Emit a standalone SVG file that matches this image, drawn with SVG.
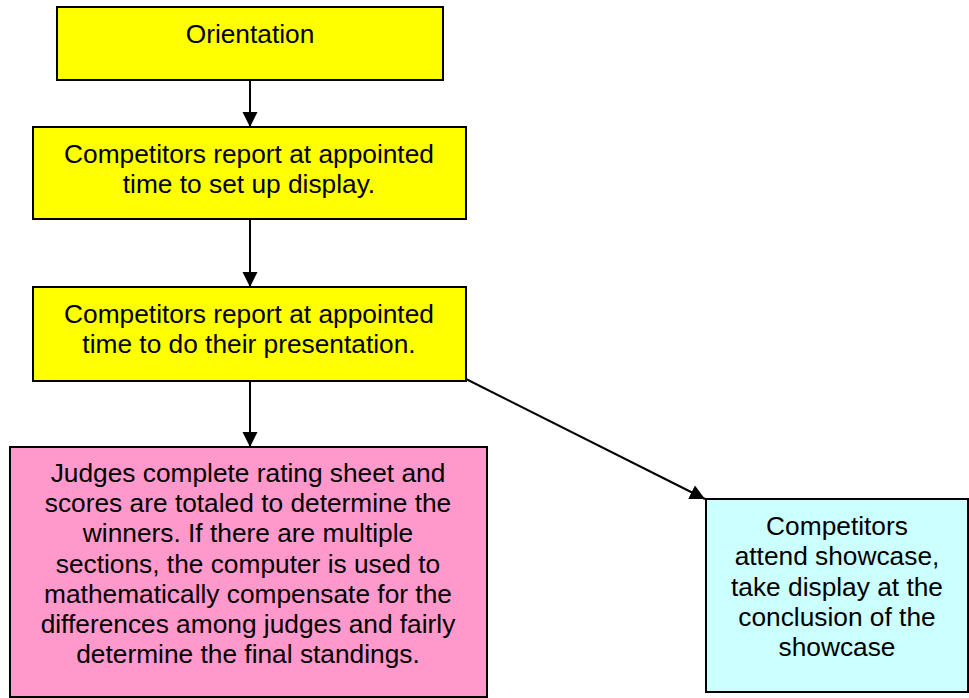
<svg xmlns="http://www.w3.org/2000/svg" width="969" height="698" viewBox="0 0 969 698">
<style>
.box{stroke:#000;stroke-width:2}
.y{fill:#FFFF00}
.p{fill:#FF99CC}
.c{fill:#CCFFFF}
text{font-family:"Liberation Sans",Arial,sans-serif;font-size:26.3px;fill:#000;text-anchor:middle}
.conn{stroke:#000;stroke-width:2;fill:none}
</style>
<defs>
<marker id="ah" markerUnits="userSpaceOnUse" markerWidth="16" markerHeight="16" viewBox="0 0 16 16" refX="15" refY="8" orient="auto">
<path d="M0,0.5 L15,8 L0,15.5 Z" fill="#000"/>
</marker>
</defs>
<rect width="969" height="698" fill="#fff"/>
<g id="connectors">
<line class="conn" x1="250" y1="80" x2="250" y2="127" marker-end="url(#ah)"/>
<line class="conn" x1="250" y1="219" x2="250" y2="287" marker-end="url(#ah)"/>
<line class="conn" x1="250" y1="381" x2="250" y2="447" marker-end="url(#ah)"/>
<line class="conn" x1="466" y1="379" x2="705" y2="499" marker-end="url(#ah)"/>
</g>
<g id="orientation">
<rect class="box y" x="57" y="7" width="386" height="73"/>
<text x="250" y="43">Orientation</text>
</g>
<g id="setup">
<rect class="box y" x="33" y="127" width="433" height="92"/>
<text x="249" y="163">Competitors report at appointed</text>
<text x="249" y="193">time to set up display.</text>
</g>
<g id="presentation">
<rect class="box y" x="33" y="287" width="433" height="94"/>
<text x="249" y="323">Competitors report at appointed</text>
<text x="249" y="353">time to do their presentation.</text>
</g>
<g id="judging">
<rect class="box p" x="10" y="447" width="477" height="250"/>
<text x="248" y="482">Judges complete rating sheet and</text>
<text x="248" y="512">scores are totaled to determine the</text>
<text x="248" y="542">winners. If there are multiple</text>
<text x="248" y="573">sections, the computer is used to</text>
<text x="248" y="603">mathematically compensate for the</text>
<text x="248" y="633">differences among judges and fairly</text>
<text x="248" y="663">determine the final standings.</text>
</g>
<g id="showcase">
<rect class="box c" x="706" y="499" width="262" height="193"/>
<text x="837" y="535">Competitors</text>
<text x="837" y="565">attend showcase,</text>
<text x="837" y="596">take display at the</text>
<text x="837" y="626">conclusion of the</text>
<text x="837" y="656">showcase</text>
</g>
</svg>
